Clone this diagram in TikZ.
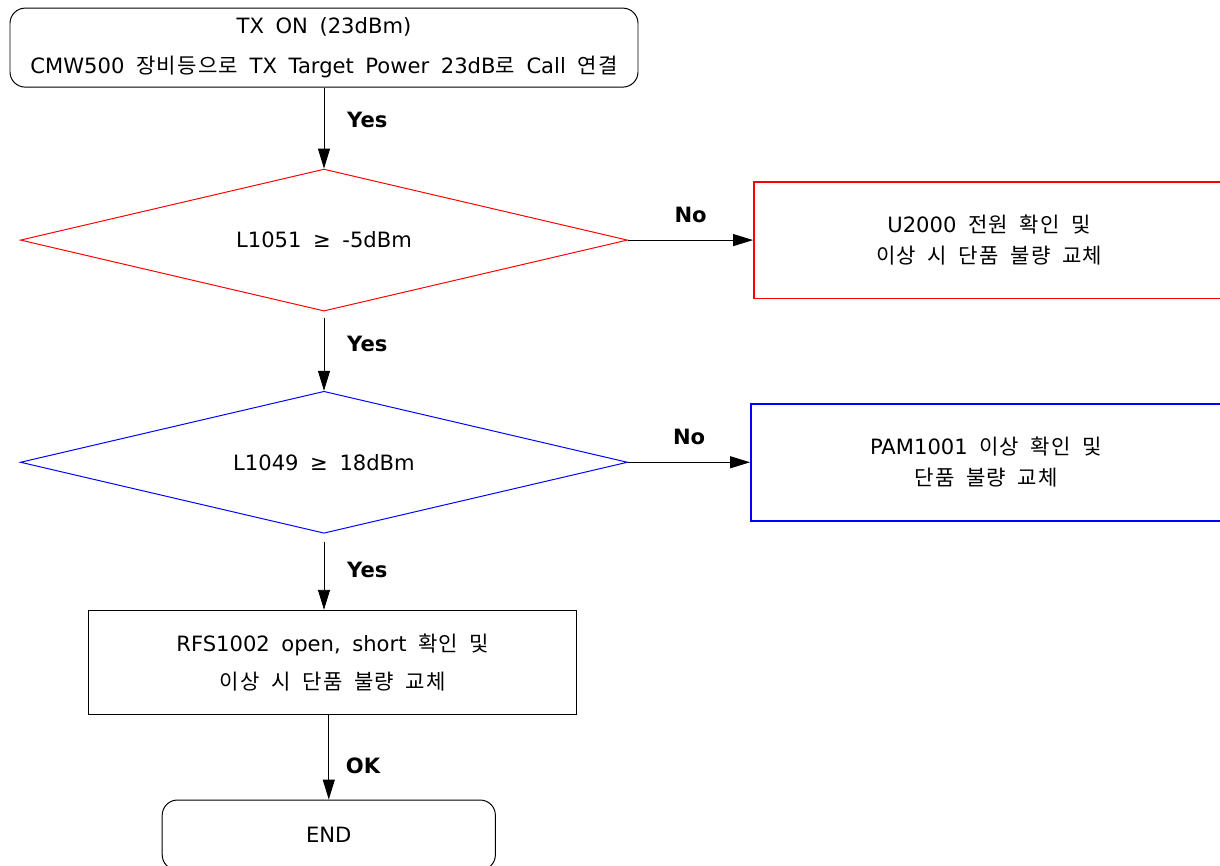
\documentclass[tikz,border=0pt]{standalone}
\usepackage{fontspec}
\setmainfont{DejaVu Sans}
\newfontfamily\krfont[LetterSpace=6]{Noto Sans CJK KR}
\newcommand{\kor}[1]{{\krfont #1}}
\newcommand{\widegap}{\spaceskip=0.55em\relax}
\usepackage{tikz}
\usetikzlibrary{arrows.meta,positioning,shapes.geometric}

\begin{document}
\begin{tikzpicture}[
    >={Triangle[length=0.5cm,width=0.3cm]},
    line width=0.7pt,
    node distance=2cm and 3.1cm,
    block/.style={draw, align=center, font=\fontsize{15}{18}\selectfont\widegap},
    terminal/.style={block, rounded corners=0.38cm},
    decision/.style={block, diamond, aspect=4.28, inner sep=0pt, minimum width=15.18cm, minimum height=3.55cm},
    action/.style={block, line width=1.4pt, minimum width=11.75cm, minimum height=2.92cm},
    flow/.style={draw, ->, line width=0.7pt},
    answer/.style={font=\fontsize{15}{18}\selectfont\bfseries},
]

% Canvas
\useasboundingbox (0,0) rectangle (30.5,-21.65);

% Start
\node[terminal, minimum width=15.7cm, minimum height=1.975cm] (txon) at (8.1,-1.19)
    {TX ON (23dBm)\\[0.37cm] CMW500 \kor{장비등으로} TX Target Power 23dB\kor{로} Call \kor{연결}};

% First check
\node[decision, draw=red, below=2.025cm of txon] (chkA) {L1051 ≥ -5dBm};
\node[action, draw=red, right=3.125cm of chkA] (fixA)
    {U2000 \kor{전원 확인 및}\\[0.15cm] \kor{이상 시 단품 불량 교체}};

% Second check
\node[decision, draw=blue, below=1.98cm of chkA] (chkB) {L1049 ≥ 18dBm};
\node[action, draw=blue, right=3.05cm of chkB] (fixB)
    {PAM1001 \kor{이상 확인 및}\\[0.15cm] \kor{단품 불량 교체}};

% RFS check
\node[block, minimum width=12.2cm, minimum height=2.6cm, below=1.9cm of chkB, xshift=0.22cm] (rfs)
    {RFS1002 open, short \kor{확인 및}\\[0.32cm] \kor{이상 시 단품 불량 교체}};

% End
\node[terminal, minimum width=8.33cm, minimum height=1.75cm, below=2.12cm of rfs, xshift=-0.1cm] (done) {END};

% Edges
\draw[flow] (txon) -- node[answer, pos=0.4, right=0.45cm] {Yes} (chkA);
\draw[flow] (chkA) -- node[answer, midway, above=0.3cm] {No} (fixA);
\draw[flow] (chkA.south) ++(0,-0.15) -- node[answer, pos=0.36, right=0.45cm] {Yes} (chkB.north);
\draw[flow] (chkB) -- node[answer, midway, above=0.3cm] {No} (fixB);
\draw[flow] (chkB.south) ++(0,-0.2) -- node[answer, pos=0.42, right=0.45cm] {Yes} (chkB.south |- rfs.north);
\draw[flow] (rfs.south -| done.north) -- node[answer, pos=0.6, right=0.3cm] {OK} (done.north);

\end{tikzpicture}
\end{document}
